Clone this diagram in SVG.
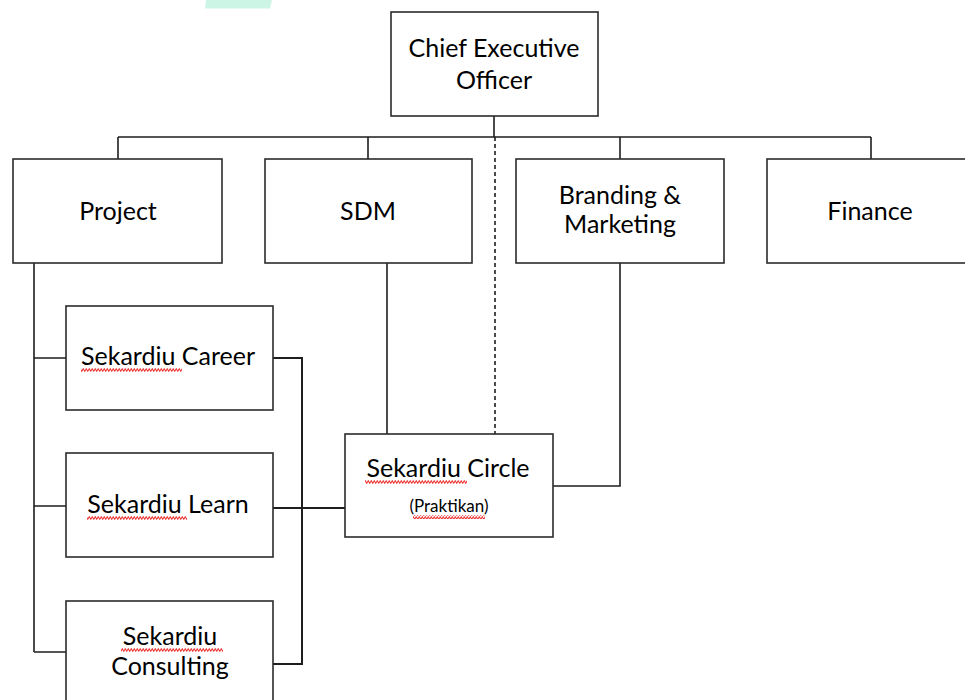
<svg xmlns="http://www.w3.org/2000/svg" width="965" height="700" viewBox="0 0 965 700">
<style>
.box{fill:#fff;stroke:#2b2b2b;stroke-width:1.6}
.t{font-family:Lato,"Liberation Sans",sans-serif;font-size:25px;fill:#000;text-anchor:middle}
.s{font-size:17px}
.ln{fill:none;stroke:#1e1e1e;stroke-width:1.6}
.dash{stroke-dasharray:4 3}
.wave{fill:none;stroke:#ee3b3b;stroke-width:1.1}
</style>
<defs>
<pattern id="wv" width="3" height="4" patternUnits="userSpaceOnUse"><path d="M-0.75 0.75 L0.75 3.25 L2.25 0.75 L3.75 3.25" class="wave"/></pattern>
</defs>
<rect width="965" height="700" fill="#fff"/>
<polygon points="206,0 272,0 270,8.5 205,8.5" fill="#cdf5e6"/>
<g id="connectors">
<path class="ln" d="M494 116 V137 M118 137 H871 M118 137 V159 M368 137 V159 M620 137 V159 M871 137 V159"/>
<path class="ln dash" d="M495 137 V434"/>
<path class="ln" d="M34 263 V652 M34 358 H66 M34 506 H66 M34 652 H66"/>
<path class="ln" style="stroke-width:2" d="M273 358 H302 V664 H273 M273 508 H345"/>
<path class="ln" d="M387 263 V434 M620 263 V486 H553"/>
</g>
<g id="ceo"><rect class="box" x="391" y="12" width="207" height="104"/><text class="t" x="494" y="57">Chief Executive</text><text class="t" x="494" y="89">Officer</text></g>
<g id="project"><rect class="box" x="13" y="159" width="209" height="104"/><text class="t" x="118" y="220">Project</text></g>
<g id="sdm"><rect class="box" x="265" y="159" width="207" height="104"/><text class="t" x="368" y="220">SDM</text></g>
<g id="branding"><rect class="box" x="516" y="159" width="208" height="104"/><text class="t" x="620" y="204">Branding &amp;</text><text class="t" x="620" y="233">Marketing</text></g>
<g id="finance"><rect class="box" x="767" y="159" width="210" height="104"/><text class="t" x="870" y="220">Finance</text></g>
<g id="career"><rect class="box" x="66" y="306" width="207" height="104"/><text class="t" x="168" y="365">Sekardiu Career</text><rect x="81" y="368" width="101" height="4" fill="url(#wv)"/></g>
<g id="learn"><rect class="box" x="66" y="453" width="207" height="104"/><text class="t" x="168" y="513">Sekardiu Learn</text><rect x="87" y="516" width="100" height="4" fill="url(#wv)"/></g>
<g id="consulting"><rect class="box" x="66" y="601" width="207" height="110"/><text class="t" x="170" y="645">Sekardiu</text><text class="t" x="170" y="675">Consulting</text><rect x="121" y="648" width="102" height="4" fill="url(#wv)"/></g>
<g id="circle"><rect class="box" x="345" y="434" width="208" height="103"/><text class="t" x="448" y="477">Sekardiu Circle</text><rect x="365" y="480" width="102" height="4" fill="url(#wv)"/><text class="t s" x="449" y="512">(Praktikan)</text><rect x="413" y="515" width="72" height="4" fill="url(#wv)"/></g>
</svg>
